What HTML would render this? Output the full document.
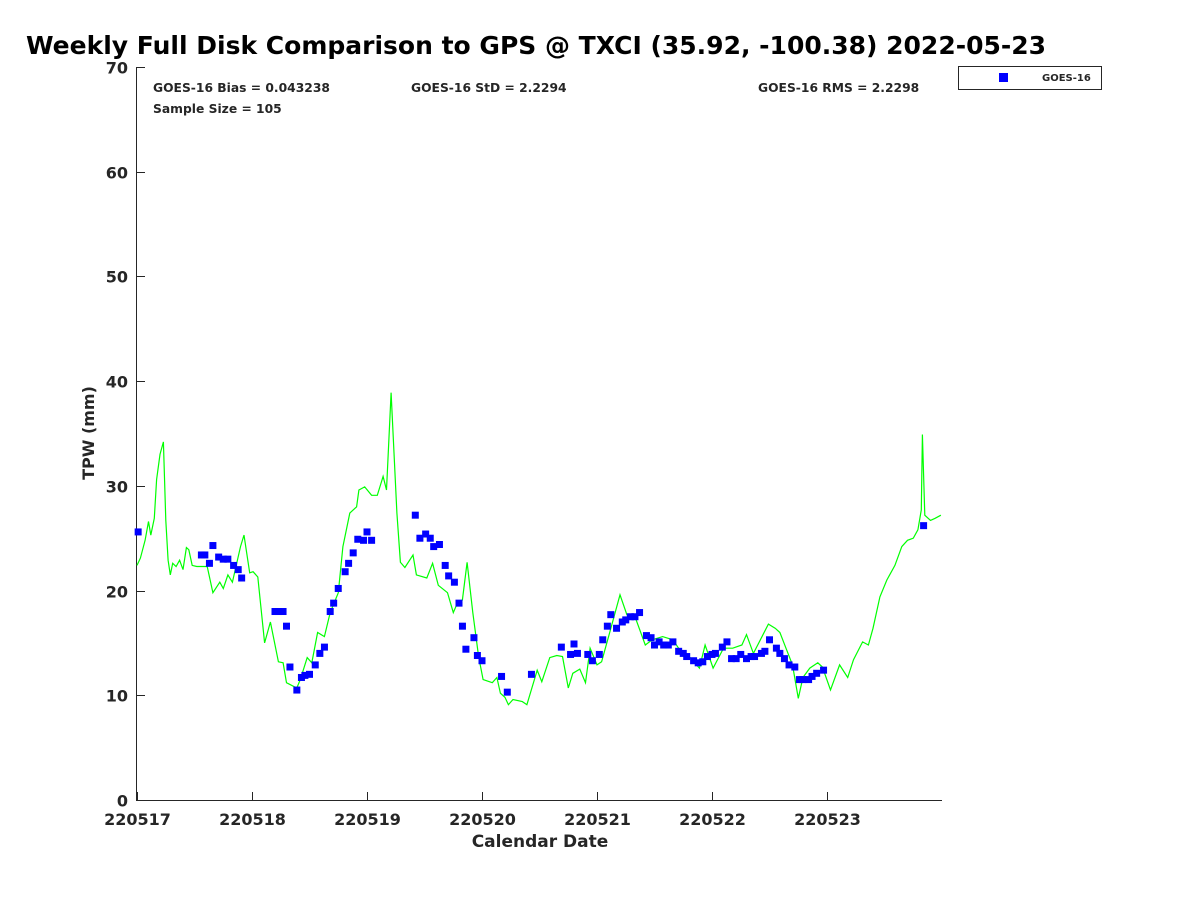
<!DOCTYPE html>
<html><head><meta charset="utf-8"><style>
body{margin:0;background:#fff;font-family:"Liberation Sans",sans-serif}
svg text{font-family:"DejaVu Sans","Liberation Sans",sans-serif;font-weight:bold;fill:#262626}
</style></head><body>
<svg id="chart" width="1200" height="900">
<text x="26" y="54" font-size="25" fill="#000" style="fill:#000">Weekly Full Disk Comparison to GPS @ TXCI (35.92, -100.38) 2022-05-23</text>
<g id="axes"></g>
<g id="marks"></g>
<text x="153" y="92" font-size="12.3">GOES-16 Bias = 0.043238</text>
<text x="153" y="113" font-size="12.3">Sample Size = 105</text>
<text x="411" y="92" font-size="12.3">GOES-16 StD = 2.2294</text>
<text x="758" y="92" font-size="12.3">GOES-16 RMS = 2.2298</text>
<g>
<rect x="958.5" y="66.5" width="143" height="23" fill="#fff" stroke="#262626"/>
<rect x="999" y="73" width="9" height="9" fill="#0000ff"/>
<text x="1042" y="81" font-size="10">GOES-16</text>
</g>
<text x="540" y="847" font-size="17" text-anchor="middle">Calendar Date</text>
<text transform="translate(94,433) rotate(-90)" font-size="16" text-anchor="middle">TPW (mm)</text>
</svg>
<script>
const xTickLabels=["220517","220518","220519","220520","220521","220522","220523"];
const yTicks=[0,10,20,30,40,50,60,70];
const gpsDays=[0,.03,.07,.10,.12,.15,.17,.20,.23,.25,.27,.29,.31,.34,.37,.40,.43,.45,.48,.52,.61,.66,.72,.75,.79,.83,.90,.93,.98,1.01,1.05,1.11,1.16,1.23,1.27,1.30,1.39,1.42,1.48,1.52,1.57,1.63,1.68,1.75,1.79,1.85,1.91,1.93,1.98,2.04,2.09,2.14,2.17,2.21,2.26,2.29,2.33,2.40,2.43,2.52,2.57,2.62,2.70,2.75,2.79,2.83,2.87,2.92,2.97,3.01,3.09,3.13,3.16,3.20,3.23,3.27,3.35,3.39,3.48,3.52,3.59,3.65,3.70,3.75,3.79,3.85,3.90,3.94,4.00,4.04,4.11,4.20,4.26,4.33,4.42,4.48,4.57,4.66,4.74,4.78,4.81,4.89,4.94,5.01,5.10,5.18,5.26,5.30,5.36,5.49,5.55,5.59,5.65,5.70,5.75,5.79,5.85,5.92,5.96,6.03,6.11,6.18,6.23,6.31,6.36,6.40,6.46,6.52,6.59,6.65,6.70,6.75,6.79,6.82,6.83,6.85,6.90,6.94,6.99];
const gpsValues=[22.4,23.1,24.8,26.6,25.3,26.9,30.6,33.0,34.2,26.7,22.9,21.5,22.6,22.3,22.9,22.0,24.1,23.9,22.4,22.3,22.3,19.8,20.8,20.2,21.5,20.8,24.2,25.3,21.7,21.8,21.3,15.0,17.0,13.2,13.1,11.2,10.7,11.5,13.6,13.1,16.0,15.6,17.9,19.8,24.2,27.4,28.0,29.6,29.9,29.1,29.1,30.9,29.6,38.9,27.4,22.7,22.2,23.4,21.5,21.2,22.6,20.5,19.8,17.9,18.9,19.1,22.7,17.9,13.7,11.5,11.2,11.7,10.2,9.8,9.1,9.6,9.4,9.1,12.4,11.3,13.6,13.8,13.7,10.7,12.1,12.5,11.2,14.5,12.9,13.2,16.0,19.6,17.7,17.5,14.8,15.3,15.6,15.3,14.0,13.5,13.6,12.6,14.8,12.6,14.5,14.5,14.8,15.8,14.0,16.8,16.4,16.0,14.3,12.9,9.7,11.7,12.6,13.1,12.7,10.5,12.9,11.7,13.4,15.1,14.8,16.4,19.4,21.0,22.4,24.2,24.8,25.0,25.8,27.7,34.9,27.2,26.7,26.9,27.2];
const goesDays=[0.01,.56,.59,.63,.66,.71,.75,.79,.84,.88,.91,1.2,1.23,1.27,1.3,1.33,1.39,1.43,1.46,1.5,1.55,1.59,1.63,1.68,1.71,1.75,1.81,1.84,1.88,1.92,1.97,2.0,2.04,2.42,2.46,2.51,2.55,2.58,2.63,2.68,2.71,2.76,2.8,2.83,2.86,2.93,2.96,3.0,3.17,3.22,3.43,3.69,3.77,3.8,3.83,3.92,3.96,4.02,4.05,4.09,4.12,4.17,4.22,4.25,4.29,4.33,4.37,4.43,4.47,4.5,4.54,4.58,4.62,4.66,4.71,4.75,4.78,4.84,4.88,4.92,4.96,5.0,5.03,5.09,5.13,5.17,5.21,5.25,5.3,5.34,5.37,5.43,5.46,5.5,5.56,5.59,5.63,5.67,5.72,5.76,5.79,5.84,5.87,5.91,5.97,6.84];
const goesValues=[25.6,23.4,23.4,22.6,24.3,23.2,23.0,23.0,22.4,22.0,21.2,18.0,18.0,18.0,16.6,12.7,10.5,11.7,11.9,12.0,12.9,14.0,14.6,18.0,18.8,20.2,21.8,22.6,23.6,24.9,24.8,25.6,24.8,27.2,25.0,25.4,25.0,24.2,24.4,22.4,21.4,20.8,18.8,16.6,14.4,15.5,13.8,13.3,11.8,10.3,12.0,14.6,13.9,14.9,14.0,13.9,13.3,13.9,15.3,16.6,17.7,16.4,17.0,17.2,17.5,17.5,17.9,15.7,15.5,14.8,15.1,14.8,14.8,15.1,14.2,14.0,13.7,13.3,13.1,13.2,13.7,13.9,14.0,14.6,15.1,13.5,13.5,13.9,13.5,13.7,13.7,14.0,14.2,15.3,14.5,14.0,13.5,12.9,12.7,11.5,11.5,11.5,11.8,12.1,12.4,26.2];

const NS="http://www.w3.org/2000/svg";
const X0=137,X1=942,Y0=800,Y1=67;
const xs=d=>X0+d*(X1-X0)/7;
const ys=v=>Y0-v*(Y0-Y1)/70;
function mk(tag,attrs,parent){const e=document.createElementNS(NS,tag);for(const k in attrs)e.setAttribute(k,attrs[k]);parent.appendChild(e);return e;}
const axes=document.getElementById('axes'),marks=document.getElementById('marks');
let a=mk('path',{d:`M${X0-0.5},${Y1}V${Y0+0.5}H${X1}`,fill:'none',stroke:'#262626','stroke-width':1},axes);


yTicks.forEach(v=>{
 const y=Math.round(ys(v))+0.5;
 const t=mk('line',{x1:X0,x2:X0+8,y1:y,y2:y,stroke:'#262626'},axes);
 
 
 const l=mk('text',{x:X0-9,y:y+6,'font-size':16,'text-anchor':'end'},axes);l.textContent=v;
 
 
});
xTickLabels.forEach((s,i)=>{
 const x=Math.round(xs(i))+0.5;
 const t=mk('line',{x1:x,x2:x,y1:Y0,y2:Y0-8,stroke:'#262626'},axes);
 
 
 const l=mk('text',{x:x,y:825,'font-size':16,'text-anchor':'middle'},axes);l.textContent=s;
 
 
});
const p=mk('polyline',{points:gpsDays.map((d,i)=>xs(d).toFixed(1)+','+ys(gpsValues[i]).toFixed(1)).join(' '),fill:'none',stroke:'#00ff00','stroke-width':1.2},marks);


goesDays.forEach((d,i)=>{
 const r=mk('rect',{x:xs(d)-3.5,y:ys(goesValues[i])-3.5,width:7,height:7,fill:'#0000ff'},marks);
 
 
});
</script>
</body></html>
